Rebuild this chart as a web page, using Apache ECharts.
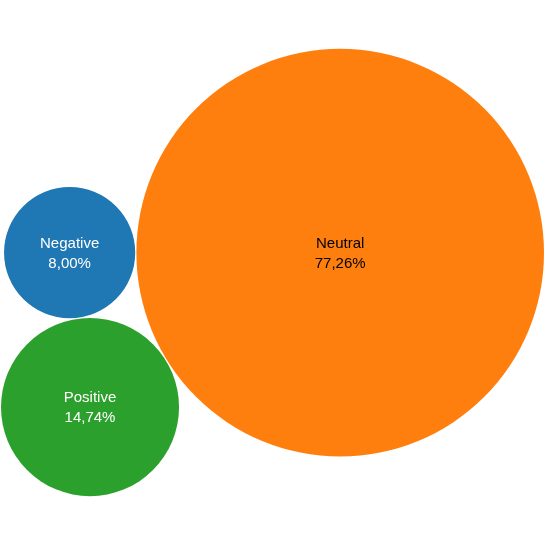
<!DOCTYPE html>
<html>
<head>
<meta charset="utf-8">
<script src="https://cdn.jsdelivr.net/npm/echarts@6/dist/echarts.min.js"></script>
<style>
  html, body { margin: 0; padding: 0; background: #fff; }
  #chart { width: 545px; height: 545px; }
</style>
</head>
<body>
<div id="chart"></div>
<script>
const categories = ['Negative', 'Neutral', 'Positive'];
const shares = [8.00, 77.26, 14.74];
const colors = ['#1f77b4', '#ff7f0e', '#2ca02c'];
const labelColors = ['#ffffff', '#000000', '#ffffff'];

// simple sibling packing: first two side by side, third tangent to both (below)
const gap = 0.05;
const nodes = shares.map((v, i) => ({ name: categories[i], value: v, r: Math.sqrt(v) }));
const a = nodes[0], b = nodes[1], c = nodes[2];
a.x = -b.r; a.y = 0;
b.x = a.r + gap; b.y = 0;
const dx = b.x - a.x, dy = b.y - a.y;
const d = Math.sqrt(dx * dx + dy * dy);
const ra = a.r + c.r + gap, rb = b.r + c.r + gap;
const t = (d * d + ra * ra - rb * rb) / (2 * d);
const h = Math.sqrt(ra * ra - t * t);
c.x = a.x + t * dx / d + h * dy / d;
c.y = a.y + t * dy / d - h * dx / d;

const minX = Math.min(...nodes.map(n => n.x - n.r));
const maxX = Math.max(...nodes.map(n => n.x + n.r));
const minY = Math.min(...nodes.map(n => n.y - n.r));
const maxY = Math.max(...nodes.map(n => n.y + n.r));
const unit = (maxX - minX) / 543;
const span = unit * 545;
const cy = (minY + maxY) / 2;

const chart = echarts.init(document.getElementById('chart'));
chart.setOption({
  animation: false,
  grid: { left: 0, right: 0, top: 0, bottom: 0 },
  xAxis: { type: 'value', min: minX - unit, max: minX - unit + span, show: false },
  yAxis: { type: 'value', min: cy - span / 2, max: cy + span / 2, show: false },
  series: [{
    type: 'custom',
    data: nodes.map(n => [n.x, n.y, n.r]),
    renderItem: function (params, api) {
      const i = params.dataIndex;
      const p = api.coord([api.value(0), api.value(1)]);
      const r = api.size([api.value(2), 0])[0];
      return {
        type: 'group',
        children: [{
          type: 'circle',
          shape: { cx: p[0], cy: p[1], r: r },
          style: { fill: colors[i] }
        }, {
          type: 'text',
          x: p[0], y: p[1] + 1,
          style: {
            text: categories[i] + '\n' + shares[i].toFixed(2).replace('.', ',') + '%',
            fill: labelColors[i],
            fontFamily: 'Liberation Sans',
            fontSize: 15,
            lineHeight: 20,
            align: 'center',
            verticalAlign: 'middle'
          }
        }]
      };
    }
  }]
});
</script>
</body>
</html>
